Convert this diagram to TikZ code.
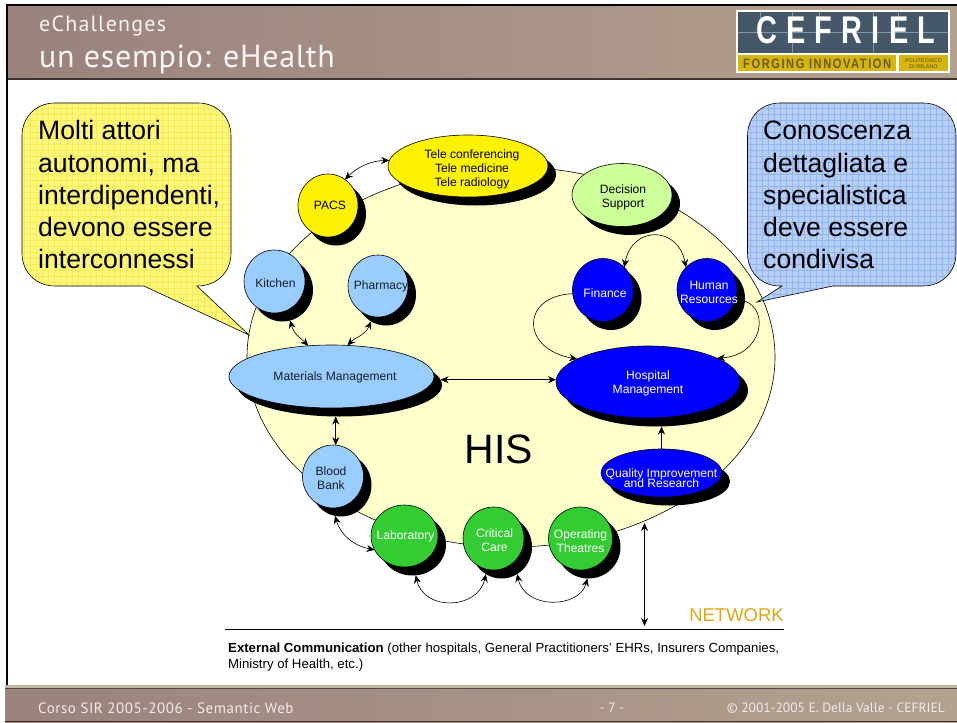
\documentclass[tikz,border=0pt]{standalone}
\usepackage{fontspec}
\usepackage{graphicx}
\setmainfont{Liberation Sans}
\newfontfamily\headfont{PT Sans}
\newfontfamily\headfontA[LetterSpace=5.4]{PT Sans}
\newfontfamily\headfontB[LetterSpace=2.2]{PT Sans}
\newfontfamily\footfont[LetterSpace=3.7]{PT Sans}
\newfontfamily\logofont[LetterSpace=32]{Liberation Sans}
\newfontfamily\tagfont[LetterSpace=14]{Liberation Sans}
\usetikzlibrary{shapes.geometric,arrows.meta,calc}
\definecolor{bandL}{HTML}{9A827D}
\definecolor{bandR}{HTML}{B3A28F}
\definecolor{softblue}{HTML}{99CCFF}
\definecolor{softgreen}{HTML}{CCFF99}
\definecolor{hisfill}{HTML}{FFFFCC}
\definecolor{deepblue}{HTML}{0000FF}
\definecolor{leaf}{HTML}{33CC33}
\definecolor{netorange}{HTML}{E0A512}
\definecolor{logodark}{HTML}{44586A}
\definecolor{logoline}{HTML}{7F98A8}
\definecolor{logoyellow}{HTML}{D6B50E}
\definecolor{calloutY}{HTML}{FDF77F}
\definecolor{calloutYline}{HTML}{F6EC50}
\definecolor{calloutB}{HTML}{B6CFF7}
\definecolor{calloutBline}{HTML}{92B5EF}
\tikzset{
  actorshape/.style={ellipse,draw=black,line width=.6pt,inner sep=0pt,outer sep=0pt},
  actorshadow/.style={ellipse,fill=black,inner sep=0pt,outer sep=0pt},
  actortext/.style={align=center,inner sep=0pt,font=\fontsize{12.1}{14}\selectfont},
  link/.style={line width=.6pt},
  bigtext/.style={anchor=base west,inner sep=0pt,font=\fontsize{26.6}{30}\selectfont},
  bandtext/.style={inner sep=0pt,text=white!85!bandL,font=\headfont\fontsize{13.5}{15}\selectfont},
  >={Stealth[length=8pt,width=7pt]}
}
% name, cx, cy, rx, ry, fill, text colour, text, text offset
\newcommand{\actor}[9]{%
  \node[actorshadow,minimum width=#4*2pt,minimum height=#5*2pt] (#1S) at (#2+8,#3+8.5) {};
  \node[actorshape,fill=#6,minimum width=#4*2pt,minimum height=#5*2pt] (#1) at (#2,#3) {};
  \node[actortext,text=#7] (#1T) at ($(#1)+#9$) {#8};
}
\begin{document}
\begin{tikzpicture}[x=1pt,y=-1pt]
\useasboundingbox (0,0) rectangle (957,722);
\fill[white] (0,0) rectangle (957,722);
% frame and bands
\fill[black] (6,4) rectangle (957,7);
\fill[black] (5.5,4) rectangle (8,722);
\shade[left color=bandL,right color=bandR] (8,7) rectangle (957,78);
\fill[black!60!bandL] (8,78) rectangle (957,80);
\shade[left color=bandL,right color=bandR] (5,686) rectangle (957,722);
\fill[bandR!80!white] (5,685) rectangle (957,687.5);
\fill[black!45!bandL] (5,687.5) rectangle (957,689);
\fill[black!60!bandL] (5,720.8) rectangle (957,722);
\node[anchor=base west,inner sep=0pt,text=white!90!bandL,font=\headfontA\fontsize{22}{24}\selectfont] (head1) at (39,32) {eChallenges};
\node[anchor=base west,inner sep=0pt,text=white!92!bandL,font=\headfontB\fontsize{32}{34}\selectfont] (head2) at (39,68) {un esempio: eHealth};
% logo
\fill[white] (736,10.5) rectangle (950,73);
\fill[logodark] (738,12.5) rectangle (948,53);
\fill[logoyellow] (738,55.5) rectangle (896,71);
\fill[logoyellow] (899,55.5) rectangle (948,71);
\draw[logoline,line width=.6pt] (738,32) -- (948,32) (760,12.5) -- (760,32) (792,12.5) -- (792,53) (819,12.5) -- (819,32) (873,12.5) -- (873,53) (898,12.5) -- (898,32);
\node[anchor=south west,inner sep=0pt,text=white] (logo) at (756,44.5) {\resizebox{179pt}{27pt}{\logofont\bfseries CEFRIEL}};
\node[anchor=south west,inner sep=0pt,text=black!50!logoyellow] (tag) at (743,68.5) {\resizebox{148pt}{9.5pt}{\tagfont\bfseries FORGING INNOVATION}};
\node[anchor=center,align=center,inner sep=0pt,text=black!40!logoyellow,font=\bfseries\fontsize{5.4}{6}\selectfont] (poli) at (923.5,63.3) {POLITECNICO\\DI MILANO};
% HIS
\node[ellipse,draw=black,fill=hisfill,line width=.6pt,minimum width=528pt,minimum height=380pt,inner sep=0pt] (his) at (511,357) {};
\node[inner sep=0pt,font=\fontsize{41}{44}\selectfont] (histext) at (499,449) {HIS};
% actors
\actor{tele}{468}{166}{80}{31}{yellow}{black}{Tele conferencing\\Tele medicine\\Tele radiology}{(4,3)}
\actor{decision}{622}{195}{50}{31.5}{softgreen}{black}{Decision\\Support}{(1,2)}
\actor{pacs}{328}{205.5}{30}{31.5}{yellow}{black}{PACS}{(2,0)}
\actor{kitchen}{274.5}{281.5}{30.5}{31.5}{softblue}{black!85!softblue}{Kitchen}{(1,1.5)}
\actor{pharmacy}{378}{286}{30}{31}{softblue}{black!85!softblue}{Pharmacy}{(3,0)}
\actor{finance}{603}{290}{30.5}{31.5}{deepblue}{white}{Finance}{(2,3)}
\actor{hr}{707}{290}{30}{31.5}{deepblue}{white}{Human\\Resources}{(2,2)}
\actor{materials}{331.5}{376.5}{102.5}{31.5}{softblue}{black!85!softblue}{Materials Management}{(3.5,1)}
\actor{hospital}{648}{382}{92}{36}{deepblue}{white}{Hospital\\Management}{(0,1)}
\actor{quality}{661.5}{473}{60.5}{24}{deepblue}{white}{Quality Improvement\\[-4pt]and Research}{(0,5)}
\actor{blood}{333}{476.5}{30.5}{31.5}{softblue}{black!85!softblue}{Blood\\Bank}{(-2,1.5)}
\actor{lab}{404.5}{536}{33.5}{31}{leaf}{white}{Laboratory}{(1,0)}
\actor{critical}{493.5}{538.5}{30.5}{31.5}{leaf}{white}{Critical\\Care}{(1,2)}
\actor{operating}{580.5}{538.5}{32}{31.5}{leaf}{white}{Operating\\Theatres}{(0,3)}
% connectors
\draw[link,<->] (pacs.57) .. controls +(12,-12) and +(-18,0) .. (tele.176);
\draw[link,<->] (kitchenS.284) .. controls +(4,14) and +(-10,-10) .. (materials.127);
\draw[link,<->] (pharmacyS.241) .. controls +(-6,14) and +(8,-8) .. (materials.63);
\draw[link,<->] (finance.47) .. controls +(8,-42) and +(-8,-42) .. (hr.133);
\draw[link,->] (finance.187) .. controls +(-52,2) and +(-57,-10) .. (hospital.162);
\draw[link,->] (hrS.355) .. controls +(25,9) and +(45,-3) .. (hospital.19);
\draw[link,<->] (materialsS.3) -- (materialsS.3 -| hospital.west);
\draw[link,<->] (materialsS.south -| blood.85) -- (blood.85);
\draw[link,->] (quality.north) -- (quality.north |- hospitalS.south);
\draw[link,<->] (bloodS.259) .. controls +(6,20) and +(-20,-4) .. (lab.205);
\draw[link,<->] (labS.276) .. controls +(8,36) and +(-8,36) .. (criticalS.240);
\draw[link,<->] (criticalS.300) .. controls +(8,36) and +(-8,30) .. (operatingS.268);
\coordinate (netTop) at (644.5,523);
\coordinate (netBottom) at (644.5,626);
\draw[link,<->] (netTop) -- (netBottom);
\coordinate (ruleL) at (225,629.5);
\coordinate (ruleR) at (784,629.5);
\draw[line width=.8pt] (ruleL) -- (ruleR);
\node[anchor=base east,inner sep=0pt,text=netorange,font=\fontsize{18.5}{20}\selectfont] (network) at (784,621) {NETWORK};
\node[anchor=north west,inner sep=0pt,align=left,font=\fontsize{13.2}{16}\selectfont] (external) at (228,642.5) {\textbf{External Communication} (other hospitals, General Practitioners’ EHRs, Insurers Companies,\\Ministry of Health, etc.)};
% callouts
\def\yellowcall{(55,103) -- (198,103) .. controls (217,103) and (231,117) .. (231,136) -- (231,253) .. controls (231,272) and (217,286) .. (197,286) -- (249,335) -- (144,286) -- (55,286) .. controls (36,286) and (22,272) .. (22,253) -- (22,136) .. controls (22,117) and (36,103) .. (55,103) -- cycle}
\begin{scope}
\clip \yellowcall;
\fill[calloutY] (0,90) rectangle (260,340);
\draw[calloutYline,line width=.5pt,step=6pt] (15,95) grid (260,340);
\end{scope}
\draw[line width=.6pt] \yellowcall;
\def\bluecall{(780,103) -- (923,103) .. controls (942,103) and (956,117) .. (956,136) -- (956,253) .. controls (956,272) and (942,286) .. (923,286) -- (833,286) -- (757,302) -- (782,286) -- (780,286) .. controls (761,286) and (747.5,272) .. (747.5,253) -- (747.5,136) .. controls (747.5,117) and (761,103) .. (780,103) -- cycle}
\begin{scope}
\clip \bluecall;
\fill[calloutB] (740,90) rectangle (957,310);
\draw[calloutBline,line width=.5pt,step=6pt] (740,95) grid (957,310);
\end{scope}
\draw[line width=.6pt] \bluecall;
\foreach \nm/\yy/\tt in {ya/140/Molti attori,yb/172/{autonomi, ma},yc/204/{interdipendenti,},yd/236/devono essere,ye/268/interconnessi}{
  \node[bigtext] (\nm) at (38,\yy) {\tt};
}
\foreach \nm/\yy/\tt in {ba/140/Conoscenza,bb/172/dettagliata e,bc/204/specialistica,bd/236/deve essere,be/268/condivisa}{
  \node[bigtext] (\nm) at (763,\yy) {\tt};
}
% footer
\node[bandtext,anchor=west,font=\footfont\fontsize{15}{17}\selectfont] (foot1) at (38,708) {Corso SIR 2005-2006 - Semantic Web};
\node[bandtext] (foot2) at (612,708) {- 7 -};
\node[bandtext,anchor=east] (foot3) at (945,708) {© 2001-2005 E. Della Valle - CEFRIEL};
\end{tikzpicture}
\end{document}
